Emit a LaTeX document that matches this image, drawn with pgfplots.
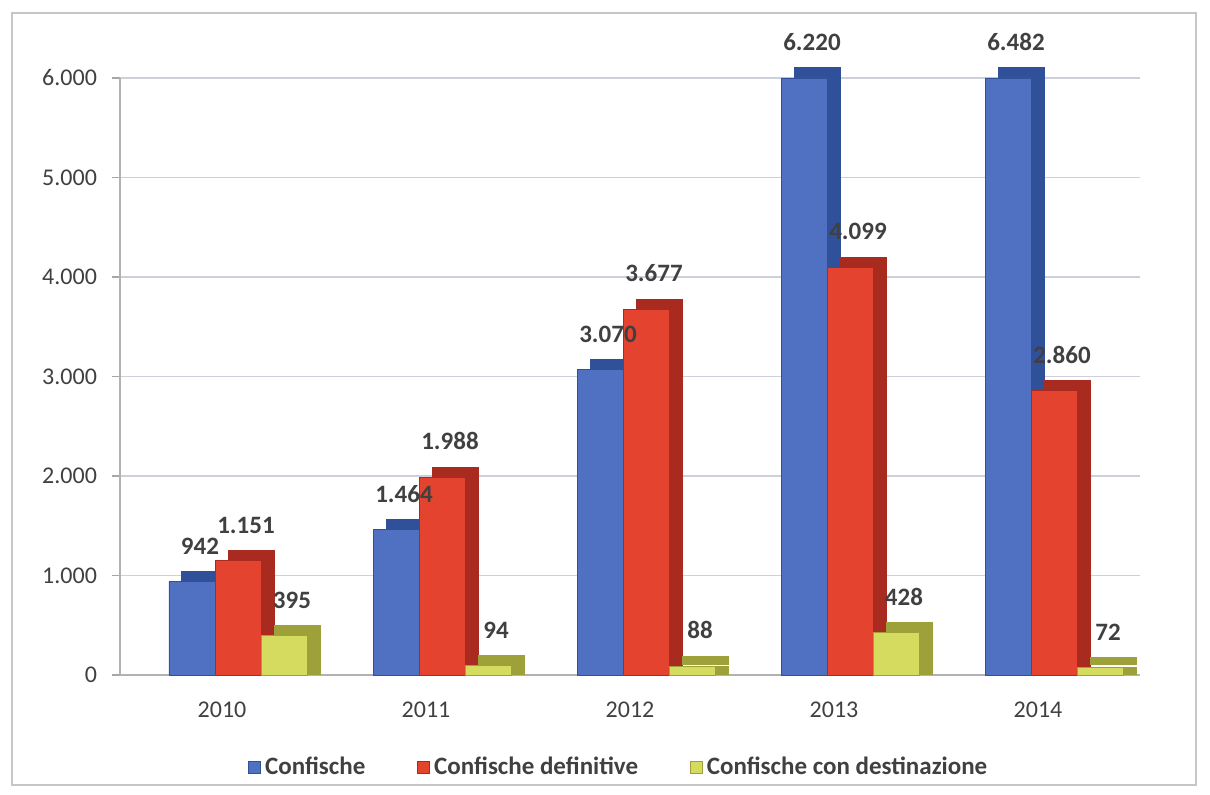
\documentclass[border=0pt]{standalone}
\usepackage{pgfplots}
\pgfplotsset{compat=1.18}
\usepackage{fontspec}
\setmainfont{Carlito}
\definecolor{cblue}{HTML}{5070C2}
\definecolor{cbluedk}{HTML}{30509A}
\definecolor{cred}{HTML}{E3432F}
\definecolor{creddk}{HTML}{A92A1E}
\definecolor{cyel}{HTML}{D5DB5E}
\definecolor{cyeldk}{HTML}{9EA03A}
\definecolor{txt}{HTML}{404040}
\definecolor{gridc}{HTML}{CDD0DA}
\begin{document}
\begin{tikzpicture}
\useasboundingbox (0,0) rectangle (605pt,397.5pt);
\draw[gray!45, line width=0.6pt] (6pt,5pt) rectangle (598pt,391pt);
\pgfplotstableread{
x blue red yel bluemeta
0 942 1151 395 942
1 1464 1988 94 1464
2 3070 3677 88 3070
3 6000 4099 428 6220
4 6000 2860 72 6482
}\datatab
\begin{axis}[
  at={(60pt,60pt)}, anchor=south west,
  scale only axis, width=510pt, height=298.5pt,
  ybar, bar width=23pt,
  xmin=-0.5, xmax=4.5, ymin=0, ymax=6000,
  xtick={0,1,2,3,4}, xticklabels={2010,2011,2012,2013,2014},
  minor xtick={-0.5,0.5,1.5,2.5,3.5,4.5},
  ytick={0,1000,2000,3000,4000,5000,6000},
  scaled y ticks=false,
  /pgf/number format/.cd, fixed, precision=0, 1000 sep={.}, assume math mode=true,
  /pgfplots/.cd,
  ymajorgrids, major grid style={gridc, line width=0.6pt},
  axis x line*=bottom, axis y line*=left,
  axis line style={gray!60, line width=0.6pt},
  x axis line style={-}, y axis line style={-},
  tick style={gray!70, line width=0.6pt},
  xtick style={draw=none},
  minor x tick style={gray!70},
  minor tick length=4pt, major tick length=4pt,
  tick align=outside,
  ticklabel style={font=\fontsize{12}{14}\selectfont, text=txt},
  yticklabel style={xshift=-4pt},
  xticklabel style={yshift=-6pt},
  clip=false,
  every node near coord/.append style={font=\fontsize{12.5}{14}\selectfont\bfseries, text=txt, yshift=10pt, xshift=4pt},
  shadow/.style={draw=#1, fill=#1, line width=0.5pt, forget plot},
  legend columns=3,
  legend style={draw=none, fill=none, at={(0.49,-0.155)}, anchor=center,
    font=\fontsize{12.5}{14}\selectfont\bfseries, text=txt,
    /tikz/every even column/.append style={column sep=24pt}},
  legend image code/.code={\fill[#1] (0pt,-3pt) rectangle (6pt,3pt);},
]
% blue series with depth
\addplot[shadow=cbluedk, bar shift=-8.5pt] table[x=x,y=blue] {\datatab};
\addplot[shadow=cbluedk, bar shift=-8.5pt, yshift=5pt] table[x=x,y=blue] {\datatab};
\addplot[fill=cblue, draw=cbluedk, line width=0.4pt, bar shift=-15pt, point meta=explicit, nodes near coords] table[x=x,y=blue,meta=bluemeta] {\datatab};
% red series with depth
\addplot[shadow=creddk, bar shift=14.5pt] table[x=x,y=red] {\datatab};
\addplot[shadow=creddk, bar shift=14.5pt, yshift=5pt] table[x=x,y=red] {\datatab};
\addplot[fill=cred, draw=creddk, line width=0.4pt, bar shift=8pt, nodes near coords] table[x=x,y=red] {\datatab};
% yellow series with depth
\addplot[shadow=cyeldk, bar shift=37.5pt] table[x=x,y=yel] {\datatab};
\addplot[shadow=cyeldk, bar shift=37.5pt, yshift=5pt] table[x=x,y=yel] {\datatab};
\addplot[fill=cyel, draw=cyeldk, line width=0.4pt, bar shift=31pt, nodes near coords] table[x=x,y=yel] {\datatab};
\legend{Confische, Confische definitive, Confische con destinazione}
\end{axis}
\end{tikzpicture}
\end{document}
